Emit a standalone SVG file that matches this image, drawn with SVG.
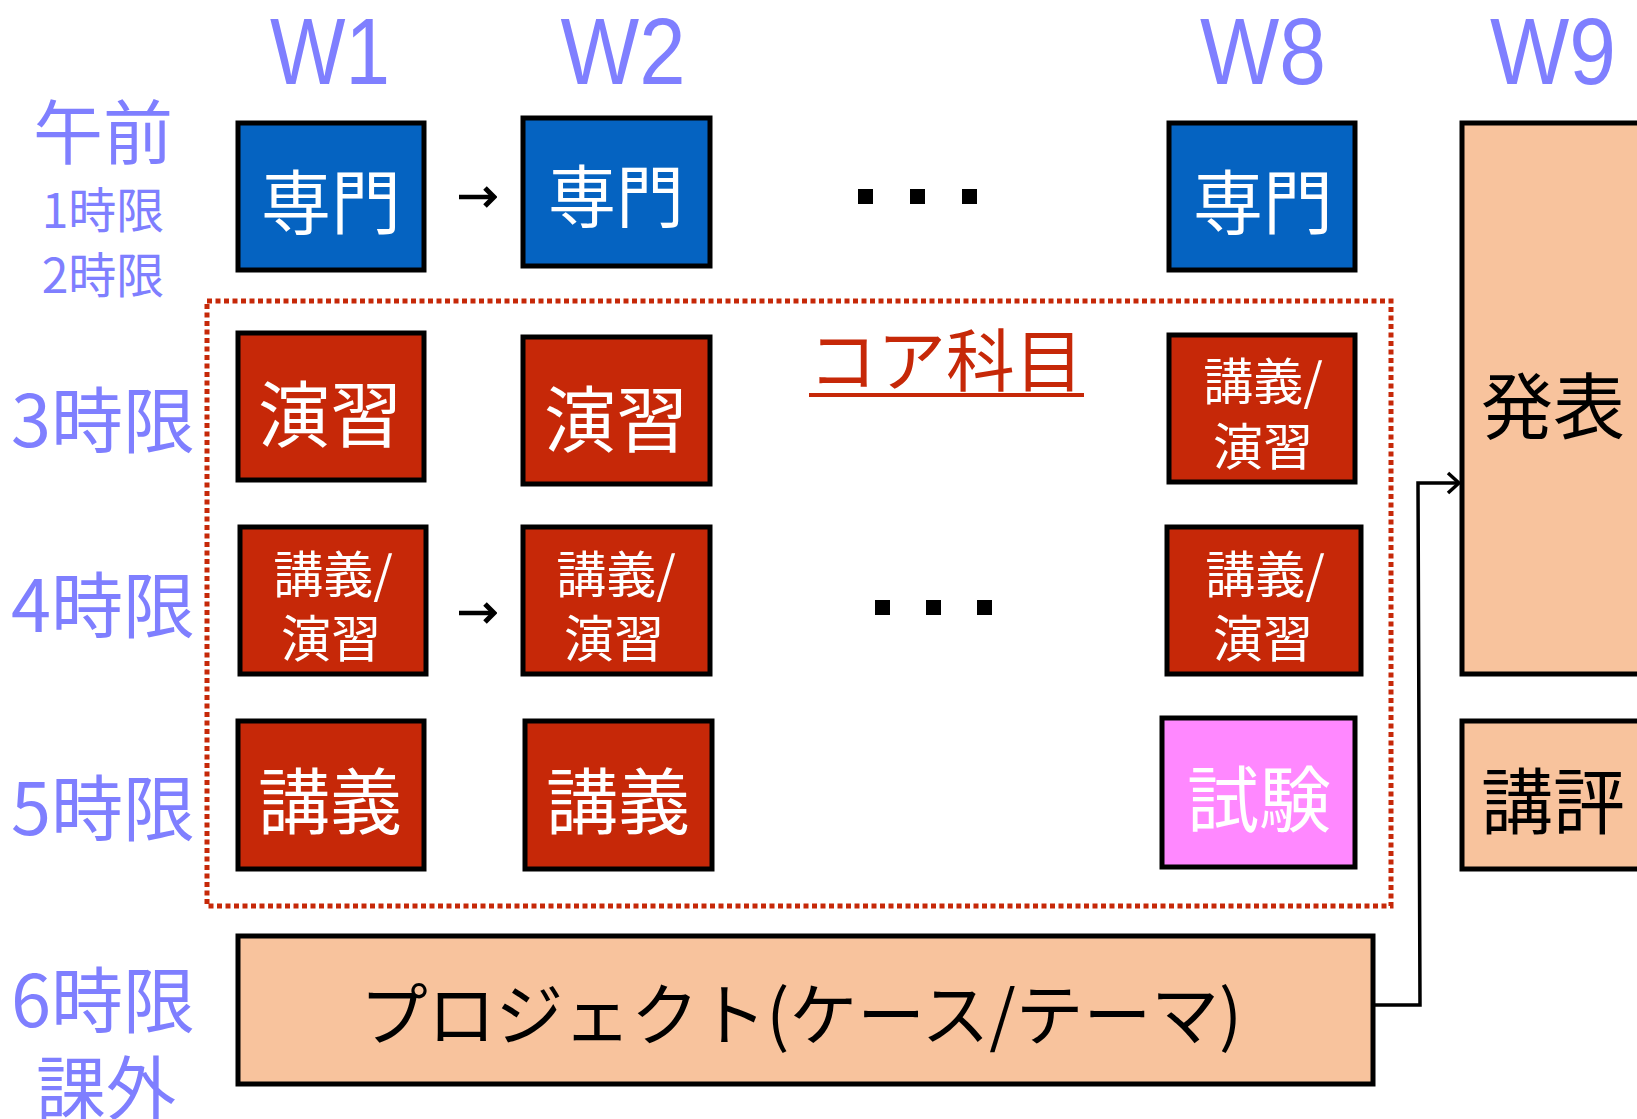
<svg xmlns="http://www.w3.org/2000/svg" width="1637" height="1119" viewBox="0 0 1637 1119">
<style>
.hdr{font-family:"Liberation Sans",Arial,sans-serif;fill:#7F7FFF;text-anchor:middle;font-size:95px}
.lbl{font-family:"Noto Sans CJK JP",sans-serif;fill:#7F7FFF;text-anchor:middle}
.box{stroke:#000;stroke-width:5}
.blue{fill:#0563C1}
.red{fill:#C62808}
.pink{fill:#FF88FF}
.peach{fill:#F8C39D}
.wt{font-family:"Noto Sans CJK JP",sans-serif;fill:#fff;text-anchor:middle}
.bt{font-family:"Noto Sans CJK JP",sans-serif;fill:#000;text-anchor:middle}
.conn{fill:none;stroke:#000;stroke-width:3.5}
.dot{fill:#000}
</style>
<defs>
<marker id="ah" markerWidth="16" markerHeight="24" refX="14" refY="12" orient="auto" markerUnits="userSpaceOnUse">
<polyline points="3,2 14,12 3,22" fill="none" stroke="#000" stroke-width="3.5"/>
</marker>
<marker id="ah2" markerWidth="16" markerHeight="22" refX="13" refY="11" orient="auto" markerUnits="userSpaceOnUse">
<polyline points="4,2 13,11 4,20" fill="none" stroke="#000" stroke-width="5"/>
</marker>
</defs>
<rect width="1637" height="1119" fill="#fff"/>

<g id="headers">
<text class="hdr" x="330" y="84" textLength="120" lengthAdjust="spacingAndGlyphs">W1</text>
<text class="hdr" x="623" y="84" textLength="125" lengthAdjust="spacingAndGlyphs">W2</text>
<text class="hdr" x="1263" y="84" textLength="126" lengthAdjust="spacingAndGlyphs">W8</text>
<text class="hdr" x="1553" y="84" textLength="126" lengthAdjust="spacingAndGlyphs">W9</text>
</g>

<g id="row-labels">
<text class="lbl" x="103" y="159" font-size="70">午前</text>
<text class="lbl" x="103" y="228" font-size="48">1時限</text>
<text class="lbl" x="103" y="293" font-size="48">2時限</text>
<text class="lbl" x="103" y="447" font-size="72">3時限</text>
<text class="lbl" x="103" y="632" font-size="72">4時限</text>
<text class="lbl" x="103" y="835" font-size="72">5時限</text>
<text class="lbl" x="103" y="1027" font-size="72">6時限</text>
<text class="lbl" x="106" y="1115" font-size="70">課外</text>
</g>

<g id="core-group">
<rect x="207" y="301" width="1184" height="605" fill="none" stroke="#C62808" stroke-width="5" stroke-dasharray="5 3.5"/>
<text x="946" y="386" font-family="Noto Sans CJK JP,sans-serif" font-size="68" fill="#C62808" text-anchor="middle" textLength="275" lengthAdjust="spacingAndGlyphs">コア科目</text>
<line x1="809" y1="395" x2="1084" y2="395" stroke="#C62808" stroke-width="4"/>
</g>

<g id="w1-senmon"><rect class="box blue" x="238" y="123" width="186" height="147"/><text class="wt" x="331" y="229" font-size="70">専門</text></g>
<g id="w2-senmon"><rect class="box blue" x="523" y="118" width="187" height="148"/><text class="wt" x="616" y="222" font-size="68">専門</text></g>
<g id="w8-senmon"><rect class="box blue" x="1169" y="123" width="186" height="147"/><text class="wt" x="1263" y="229" font-size="70">専門</text></g>

<g id="w1-enshu"><rect class="box red" x="238" y="333" width="186" height="147"/><text class="wt" x="330" y="441" font-size="72">演習</text></g>
<g id="w2-enshu"><rect class="box red" x="523" y="337" width="187" height="147"/><text class="wt" x="616" y="446" font-size="72">演習</text></g>
<g id="w8-kogi-enshu-3"><rect class="box red" x="1169" y="335" width="186" height="147"/><text class="wt" x="1263" y="400" font-size="50">講義/</text><text class="wt" x="1263" y="465" font-size="50">演習</text></g>

<g id="w1-kogi-enshu"><rect class="box red" x="240" y="527" width="186" height="147"/><text class="wt" x="333" y="593" font-size="50">講義/</text><text class="wt" x="331" y="657" font-size="50">演習</text></g>
<g id="w2-kogi-enshu"><rect class="box red" x="523" y="527" width="187" height="147"/><text class="wt" x="616" y="593" font-size="50">講義/</text><text class="wt" x="614" y="657" font-size="50">演習</text></g>
<g id="w8-kogi-enshu-4"><rect class="box red" x="1167" y="527" width="194" height="147"/><text class="wt" x="1265" y="593" font-size="50">講義/</text><text class="wt" x="1263" y="657" font-size="50">演習</text></g>

<g id="w1-kogi"><rect class="box red" x="238" y="721" width="186" height="148"/><text class="wt" x="330" y="828" font-size="72">講義</text></g>
<g id="w2-kogi"><rect class="box red" x="525" y="721" width="187" height="148"/><text class="wt" x="618" y="828" font-size="72">講義</text></g>
<g id="w8-shiken"><rect class="box pink" x="1162" y="718" width="193" height="149"/><text class="wt" x="1259" y="826" font-size="72">試験</text></g>

<g id="w9-happyo"><rect class="box peach" x="1462" y="123" width="190" height="551"/><text class="bt" x="1553" y="433" font-size="72">発表</text></g>
<g id="w9-kohyo"><rect class="box peach" x="1462" y="721" width="190" height="148"/><text class="bt" x="1553" y="828" font-size="72">講評</text></g>

<g id="project"><rect class="box peach" x="238" y="936" width="1135" height="148"/><text class="bt" x="801" y="1040" font-size="68" textLength="882" lengthAdjust="spacingAndGlyphs">プロジェクト(ケース/テーマ)</text></g>

<g id="ellipsis">
<rect class="dot" x="858" y="189" width="15" height="15"/>
<rect class="dot" x="910" y="189" width="15" height="15"/>
<rect class="dot" x="962" y="189" width="15" height="15"/>
<rect class="dot" x="875" y="600" width="15" height="15"/>
<rect class="dot" x="926" y="600" width="15" height="15"/>
<rect class="dot" x="977" y="600" width="15" height="15"/>
</g>

<g id="connectors">
<line x1="459" y1="197" x2="494" y2="197" stroke="#000" stroke-width="4.5" marker-end="url(#ah2)"/>
<line x1="459" y1="613" x2="494" y2="613" stroke="#000" stroke-width="4.5" marker-end="url(#ah2)"/>
<polyline class="conn" points="1373,1005 1420,1005 1418,483 1459,483" marker-end="url(#ah)"/>
</g>
</svg>
